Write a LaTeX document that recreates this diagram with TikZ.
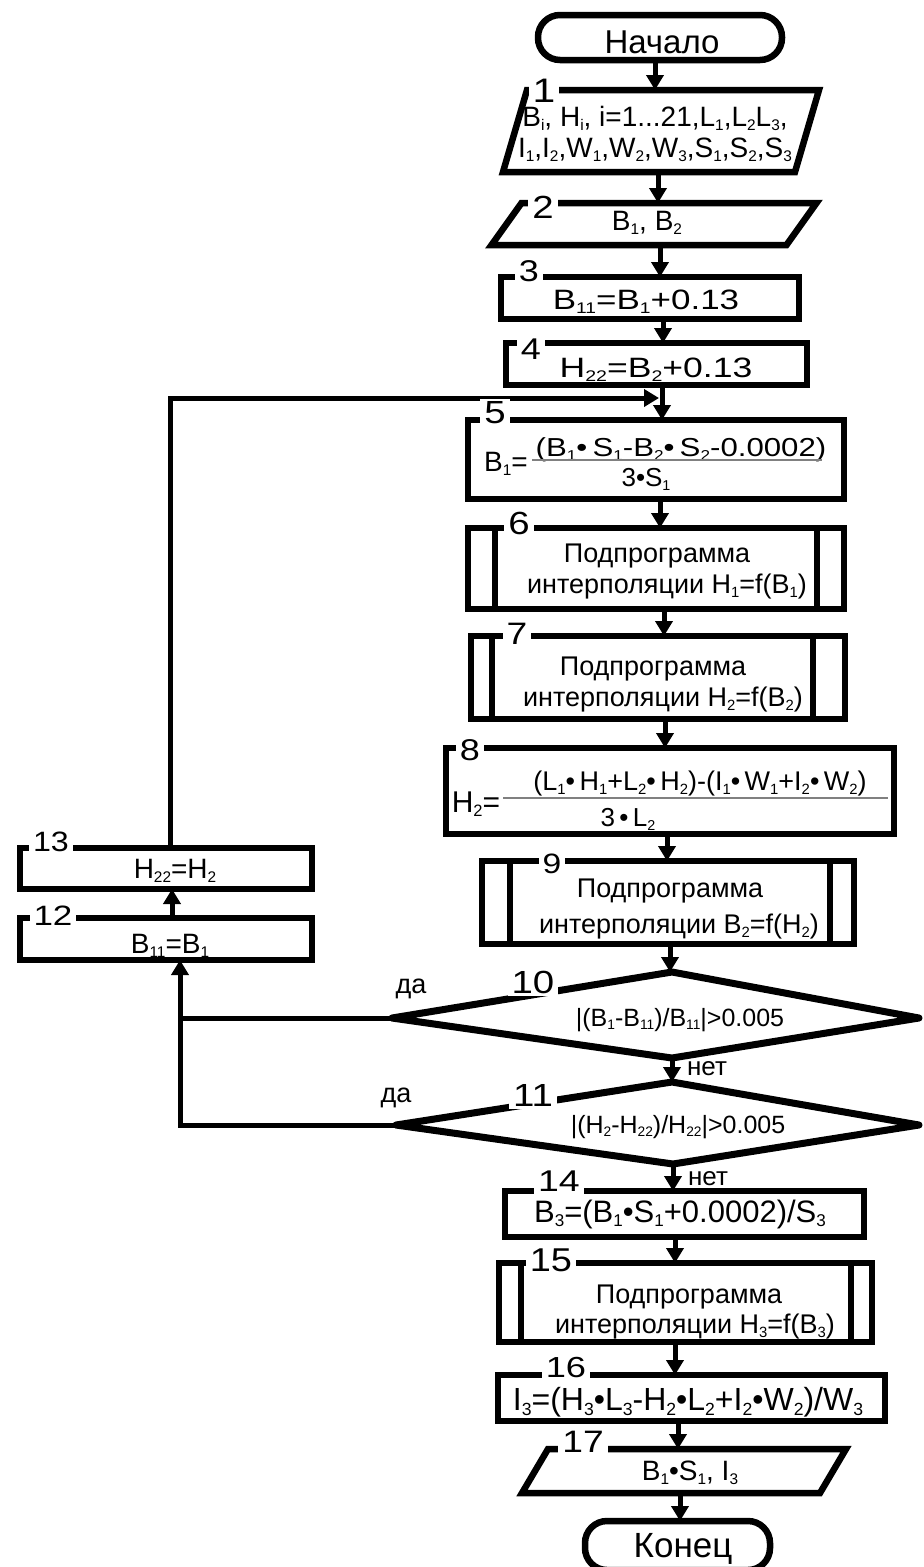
\documentclass[tikz,border=0pt]{standalone}
\usepackage{fontspec}
\setmainfont{Liberation Sans}
\usepackage{graphicx}
\usetikzlibrary{arrows.meta,calc}
\newcommand\lo[1]{\raisebox{-0.3ex}{\scalebox{0.55}{#1}}}
\newcommand\fs[1]{\fontsize{#1}{#1}\selectfont}
\newcommand\wide[2]{\scalebox{#1}[1]{#2}}
\begin{document}
\begin{tikzpicture}[x=1pt,y=-1pt,
  box/.style={draw, line width=6.5pt, inner sep=0pt, outer sep=0pt, rectangle},
  ghost/.style={inner sep=0pt, outer sep=0pt, rectangle},
  term/.style={box, rounded corners=22pt},
  edgeline/.style={line width=6.5pt, line join=miter},
  rhomb/.style={line width=7pt, line join=round},
  lnk/.style={line width=5pt},
  arr/.style={lnk, -{Triangle[width=17pt,length=15pt]}},
  num/.style={fill=white, inner xsep=4pt, inner ysep=3pt, font=\fs{31}},
  txt/.style={inner sep=0pt, anchor=base},
  bar/.style={line width=1.4pt, gray},
]
\useasboundingbox (0,0) rectangle (924,1567);

% ---------- blocks ----------
\node[term, minimum width=244pt, minimum height=45pt] (start) at (660,37.5) {};
\node[ghost, minimum width=292pt, minimum height=82pt] (b1) at (661,131) {};
\draw[edgeline] ([xshift=12pt]b1.north west) -- ([xshift=12pt]b1.north east)
  -- ([xshift=-12pt]b1.south east) -- ([xshift=-12pt]b1.south west) -- cycle;
\node[ghost, minimum width=295pt, minimum height=42pt] (b2) at (654,224) {};
\draw[edgeline] ([xshift=15pt]b2.north west) -- ([xshift=15pt]b2.north east)
  -- ([xshift=-15pt]b2.south east) -- ([xshift=-15pt]b2.south west) -- cycle;
\node[box, minimum width=298pt, minimum height=42pt] (b3) at (650,298) {};
\node[box, minimum width=301pt, minimum height=42pt] (b4) at (656.5,364) {};
\node[box, minimum width=376pt, minimum height=79pt] (b5) at (656,459.5) {};
\node[box, minimum width=376pt, minimum height=81pt] (b6) at (656,568.5) {};
\draw[edgeline] ([xshift=27pt]b6.north west) -- ([xshift=27pt]b6.south west);
\draw[edgeline] ([xshift=-27pt]b6.north east) -- ([xshift=-27pt]b6.south east);
\node[box, minimum width=374pt, minimum height=83pt] (b7) at (658,677.5) {};
\draw[edgeline] ([xshift=21pt]b7.north west) -- ([xshift=21pt]b7.south west);
\draw[edgeline] ([xshift=-32pt]b7.north east) -- ([xshift=-32pt]b7.south east);
\node[box, minimum width=448pt, minimum height=86pt] (b8) at (670,791) {};
\node[box, minimum width=372pt, minimum height=83pt] (b9) at (668,902.5) {};
\draw[edgeline] ([xshift=28pt]b9.north west) -- ([xshift=28pt]b9.south west);
\draw[edgeline] ([xshift=-24pt]b9.north east) -- ([xshift=-24pt]b9.south east);

\coordinate (d10t) at (672,972);  \coordinate (d10r) at (919,1018);
\coordinate (d10b) at (672,1058); \coordinate (d10l) at (392,1018);
\draw[rhomb] (d10t) -- (d10r) -- (d10b) -- (d10l) -- cycle;
\coordinate (d11t) at (672,1082); \coordinate (d11r) at (919,1125);
\coordinate (d11b) at (673,1164); \coordinate (d11l) at (396,1125);
\draw[rhomb] (d11t) -- (d11r) -- (d11b) -- (d11l) -- cycle;

\node[box, minimum width=292pt, minimum height=42pt] (b12) at (166,939) {};
\node[box, minimum width=292pt, minimum height=41pt] (b13) at (166,868.5) {};
\node[box, minimum width=359pt, minimum height=46pt] (b14) at (684.5,1214) {};
\node[box, minimum width=373pt, minimum height=79pt] (b15) at (685.5,1302.5) {};
\draw[edgeline] ([xshift=22pt]b15.north west) -- ([xshift=22pt]b15.south west);
\draw[edgeline] ([xshift=-21pt]b15.north east) -- ([xshift=-21pt]b15.south east);
\node[box, minimum width=387pt, minimum height=46pt] (b16) at (691.5,1398) {};
\node[ghost, minimum width=298pt, minimum height=44pt] (b17) at (684,1471) {};
\draw[edgeline] ([xshift=13pt]b17.north west) -- ([xshift=13pt]b17.north east)
  -- ([xshift=-13pt]b17.south east) -- ([xshift=-13pt]b17.south west) -- cycle;
\node[term, minimum width=185pt, minimum height=49pt] (end) at (677.5,1545.5) {};

% ---------- connectors ----------
\draw[arr] ([xshift=-5pt]start.south) -- ([xshift=-5pt]start.south |- b1.north);
\draw[arr] ([xshift=-3pt]b1.south) -- ([xshift=-3pt]b1.south |- b2.north);
\draw[arr] ([xshift=6pt]b2.south) -- ([xshift=6pt]b2.south |- b3.north);
\draw[arr] ([xshift=13pt]b3.south) -- ([xshift=13pt]b3.south |- b4.north);
\draw[arr] ([xshift=5.5pt]b4.south) -- ([xshift=5.5pt]b4.south |- b5.north);
\draw[arr] ([xshift=4pt]b5.south) -- ([xshift=4pt]b5.south |- b6.north);
\draw[arr] ([xshift=8pt]b6.south) -- ([xshift=8pt]b6.south |- b7.north);
\draw[arr] ([xshift=7pt]b7.south) -- ([xshift=7pt]b7.south |- b8.north);
\draw[arr] ([xshift=-3pt]b8.south) -- ([xshift=-3pt]b8.south |- b9.north);
\draw[arr] ([xshift=2pt]b9.south) -- ([xshift=2pt]b9.south |- d10t);
\draw[arr] (d10b) -- (d11t);
\draw[arr] (d11b) -- (d11b |- b14.north);
\draw[arr] ([xshift=-9.5pt]b14.south) -- ([xshift=-9.5pt]b14.south |- b15.north);
\draw[arr] ([xshift=-10.5pt]b15.south) -- ([xshift=-10.5pt]b15.south |- b16.north);
\draw[arr] ([xshift=-13.5pt]b16.south) -- ([xshift=-13.5pt]b16.south |- b17.north);
\draw[arr] ([xshift=-4pt]b17.south) -- ([xshift=-4pt]b17.south |- end.north);

% loop back into block 5
\coordinate (join) at (659,398);
\draw[arr] ([xshift=6pt]b12.north) -- ([xshift=6pt]b12.north |- b13.south);
\draw[arr, line join=miter] ([xshift=4pt]b13.north) |- (join);
\draw[lnk] (d10l) -- ([xshift=14pt]b12.south |- d10l);
\draw[arr, line join=miter] (d11l) -| ([xshift=14pt]b12.south);

% ---------- block numbers ----------
\node[num, font=\fs{34}, inner ysep=1pt] (n1) at (544,91) {\wide{1.2}{1}};
\node[num, font=\fs{32}] (n2) at (543,207) {\wide{1.2}{2}};
\node[num, font=\fs{30}] (n3) at (529,271) {\wide{1.2}{3}};
\node[num, font=\fs{30}] (n4) at (531,349) {\wide{1.2}{4}};
\node[num, font=\fs{32}] (n5) at (495,413) {\wide{1.2}{5}};
\node[num, font=\fs{32}] (n6) at (519,523) {\wide{1.2}{6}};
\node[num, font=\fs{31}] (n7) at (517,634) {\wide{1.2}{7}};
\node[num, font=\fs{30}] (n8) at (470,750) {\wide{1.2}{8}};
\node[num, font=\fs{28}] (n9) at (552,864) {\wide{1.2}{9}};
\node[num, font=\fs{32}] (n10) at (533,982) {\wide{1.2}{10}};
\node[num, font=\fs{32}] (n11) at (533,1095) {\wide{1.2}{11}};
\node[num, font=\fs{28}] (n12) at (53,916) {\wide{1.25}{12}};
\node[num, font=\fs{28}] (n13) at (51,842) {\wide{1.15}{13}};
\node[num, font=\fs{30}] (n14) at (559,1181) {\wide{1.25}{14}};
\node[num, font=\fs{33}] (n15) at (551,1260) {\wide{1.15}{15}};
\node[num, font=\fs{29}] (n16) at (566,1367) {\wide{1.25}{16}};
\node[num, font=\fs{31}] (n17) at (583,1442) {\wide{1.2}{17}};

% ---------- texts ----------
\node[txt, font=\fs{33}] (tstart) at (662,53) {Начало};
\node[txt, font=\fs{28}] (t1a) at (655,126) {B\lo{i}, H\lo{i}, i=1...21,L\lo{1},L\lo{2}L\lo{3},};
\node[txt, font=\fs{28}] (t1b) at (655,157) {I\lo{1},I\lo{2},W\lo{1},W\lo{2},W\lo{3},S\lo{1},S\lo{2},S\lo{3}};
\node[txt, font=\fs{28}] (t2) at (647,230) {B\lo{1}, B\lo{2}};
\node[txt, font=\fs{28}] (t3) at (646,309) {\wide{1.25}{B\lo{11}=B\lo{1}+0.13}};
\node[txt, font=\fs{28}] (t4) at (656,377) {\wide{1.27}{H\lo{22}=B\lo{2}+0.13}};
\node[txt, font=\fs{28}] (t5l) at (506,471) {B\lo{1}=};
\node[txt, font=\fs{26}] (t5n) at (681,456) {\wide{1.2}{(B\lo{1}•\,S\lo{1}-B\lo{2}•\,S\lo{2}-0.0002)}};
\draw[bar] (532,460) -- (822,460);
\node[txt, font=\fs{26}] (t5d) at (646,486) {3•S\lo{1}};
\node[txt, font=\fs{27}] (t6a) at (657,562) {Подпрограмма};
\node[txt, font=\fs{27}] (t6b) at (667,593) {интерполяции H\lo{1}=f(B\lo{1})};
\node[txt, font=\fs{27}] (t7a) at (653,675) {Подпрограмма};
\node[txt, font=\fs{27}] (t7b) at (663,706) {интерполяции H\lo{2}=f(B\lo{2})};
\node[txt, font=\fs{30}] (t8l) at (476,812) {H\lo{2}=};
\node[txt, font=\fs{27}] (t8n) at (700,790) {(L\lo{1}•\,H\lo{1}+L\lo{2}•\,H\lo{2})-(I\lo{1}•\,W\lo{1}+I\lo{2}•\,W\lo{2})};
\draw[bar] (503,798) -- (888,798);
\node[txt, font=\fs{26}] (t8d) at (628,826) {3\,•\,L\lo{2}};
\node[txt, font=\fs{27}] (t9a) at (670,897) {Подпрограмма};
\node[txt, font=\fs{27}] (t9b) at (679,933) {интерполяции B\lo{2}=f(H\lo{2})};
\node[txt, font=\fs{25}] (t10) at (680,1026) {|(B\lo{1}-B\lo{11})/B\lo{11}|>0.005};
\node[txt, font=\fs{25}] (t11) at (678,1133) {|(H\lo{2}-H\lo{22})/H\lo{22}|>0.005};
\node[txt, font=\fs{28}] (t12) at (170,953) {B\lo{11}=B\lo{1}};
\node[txt, font=\fs{28}] (t13) at (175,878) {H\lo{22}=H\lo{2}};
\node[txt, font=\fs{31}] (t14) at (680,1222) {B\lo{3}=(B\lo{1}•S\lo{1}+0.0002)/S\lo{3}};
\node[txt, font=\fs{27}] (t15a) at (689,1303) {Подпрограмма};
\node[txt, font=\fs{27}] (t15b) at (695,1333) {интерполяции H\lo{3}=f(B\lo{3})};
\node[txt, font=\fs{32}] (t16) at (688,1410) {I\lo{3}=(H\lo{3}•L\lo{3}-H\lo{2}•L\lo{2}+I\lo{2}•W\lo{2})/W\lo{3}};
\node[txt, font=\fs{28}] (t17) at (690,1480) {B\lo{1}•S\lo{1}, I\lo{3}};
\node[txt, font=\fs{35}] (tend) at (683,1557) {Конец};

\node[txt, font=\fs{27}] (yes10) at (411,993) {да};
\node[txt, font=\fs{27}] (yes11) at (396,1102) {да};
\node[txt, font=\fs{26}] (no10) at (707,1075) {нет};
\node[txt, font=\fs{26}] (no11) at (708,1185) {нет};
\end{tikzpicture}
\end{document}
